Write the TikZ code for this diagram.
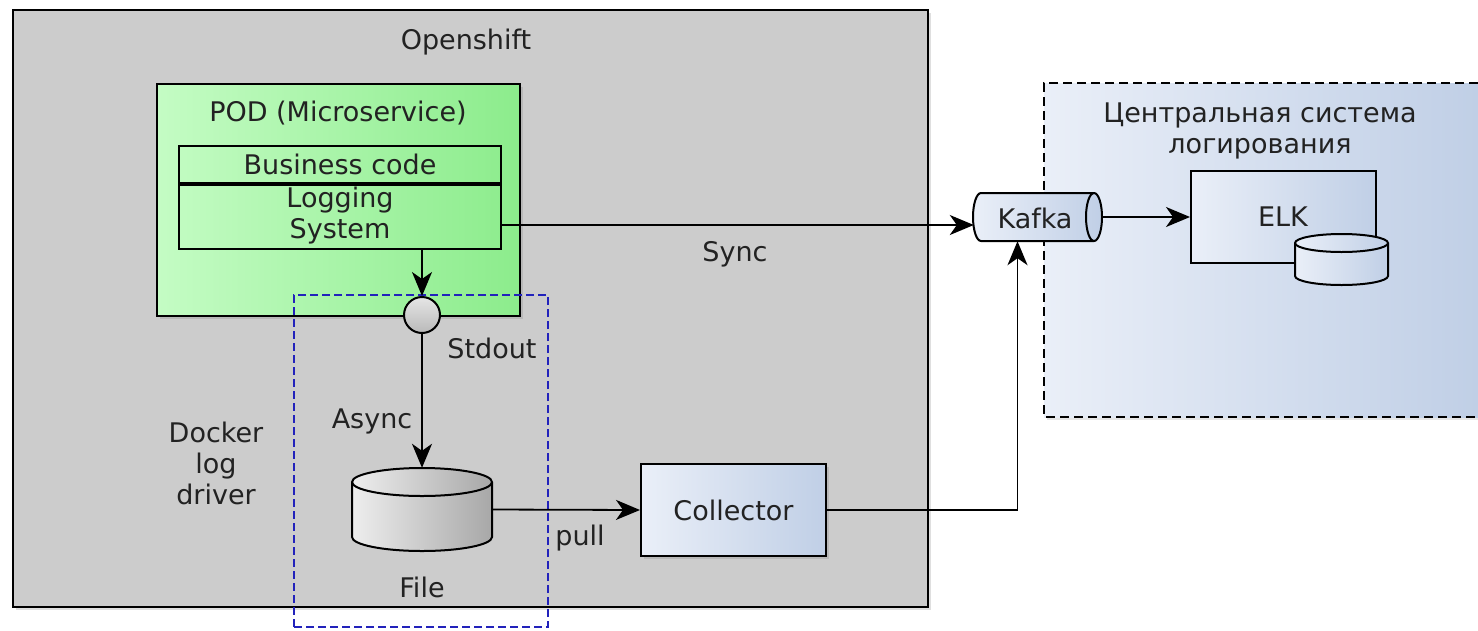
\documentclass[tikz,border=0pt]{standalone}
\usepackage{fontspec}
\setmainfont{DejaVu Sans}
\usetikzlibrary{arrows.meta,shadows}
\definecolor{osgray}{HTML}{CCCCCC}
\definecolor{txt}{HTML}{222222}
\definecolor{greenL}{HTML}{C4FCC4}
\definecolor{greenR}{HTML}{8CEC8C}
\definecolor{blueL}{HTML}{EAEFF8}
\definecolor{blueR}{HTML}{C0CFE6}
\definecolor{dashblue}{HTML}{2222BB}
\definecolor{grayL}{HTML}{EEEEEE}
\definecolor{grayR}{HTML}{A8A8A8}
\tikzset{
  box/.style={draw=black, line width=2pt, inner sep=0pt, text=txt},
  lbl/.style={text=txt, inner sep=0pt, align=center},
  conn/.style={draw=black, line width=1.8pt, -{Stealth[length=24pt,width=20pt,inset=7pt]}},
  shade/.style={drop shadow={opacity=0.25, shadow xshift=3pt, shadow yshift=-3pt}},
  ghost/.style={inner sep=0pt, text=txt}
}
\begin{document}
\begin{tikzpicture}[x=1pt, y=-1pt, font=\fontsize{27}{31}\selectfont]
\useasboundingbox (0,0) rectangle (1478,630);

% Openshift container
\node[box, fill=osgray, shade, minimum width=915pt, minimum height=597pt] (os) at (470.5,308.5) {};
\node[lbl] (oslbl) at (466,42) {Openshift};

% central logging system (right, cut at edge)
\fill[left color=blueL, right color=blueR, drop shadow={opacity=0.2, shadow xshift=3pt, shadow yshift=-3pt}] (1044,83) rectangle (1478,417);
\draw[line width=2pt, dash pattern=on 9pt off 5pt] (1478,83) -- (1044,83) -- (1044,417) -- (1478,417);
\node[lbl] (cslbl) at (1260,131) {Центральная система\\логирования};

% POD
\node[box, left color=greenL, right color=greenR, shade, minimum width=363pt, minimum height=232pt] (pod) at (338.5,200) {};
\node[lbl] (podlbl) at (338,113) {POD (Microservice)};
\node[box, fill=none, minimum width=322pt, minimum height=37pt] (biz) at (340,164.5) {Business code};
\node[box, fill=none, minimum width=322pt, minimum height=66pt, align=center] (log) at (340,216) {Logging\\System};
\draw[line width=3pt] (biz.south west) -- (biz.south east);

% Docker log driver area
\node[draw=dashblue, line width=1.6pt, dash pattern=on 8pt off 4pt, inner sep=0pt, minimum width=254pt, minimum height=332pt] (dld) at (421,461) {};
\node[lbl] (dldlbl) at (216,463) {Docker\\log\\driver};

% Stdout
\node[circle, draw=black, line width=2pt, top color=gray!20, bottom color=gray!55, minimum size=36pt, inner sep=0pt] (stdout) at (422,315) {};
\node[lbl] (stdlbl) at (492,348) {Stdout};

% File cylinder
\node[ghost, minimum width=140pt, minimum height=83pt] (file) at (422,509.5) {};
\path[left color=grayL, right color=grayR, draw=black, line width=2pt]
  (352,482) -- (352,537) arc[start angle=180, end angle=360, x radius=70pt, y radius=14pt]
  -- (492,482) arc[start angle=0, end angle=180, x radius=70pt, y radius=14pt] -- cycle;
\draw[line width=2pt] (352,482) arc[start angle=180, end angle=360, x radius=70pt, y radius=14pt];
\node[lbl] (filelbl) at (422,587) {File};

% Collector
\node[box, left color=blueL, right color=blueR, shade, minimum width=185pt, minimum height=92pt] (coll) at (733.5,510) {Collector};

% Kafka
\node[ghost, minimum width=129pt, minimum height=48pt] (kafka) at (1037.5,217) {};
\path[left color=blueL, right color=blueR, draw=black, line width=2pt]
  (1094,193) -- (981,193) arc[start angle=90, end angle=270, x radius=8pt, y radius=24pt]
  -- (1094,241) arc[start angle=-90, end angle=90, x radius=8pt, y radius=24pt] -- cycle;
\draw[line width=2pt] (1094,193) arc[start angle=90, end angle=270, x radius=8pt, y radius=24pt];
\node[lbl] (kafkalbl) at (1035,218) {Kafka};

% ELK
\node[box, left color=blueL, right color=blueR, minimum width=185pt, minimum height=92pt] (elk) at (1283.5,217) {};
\node[lbl] (elklbl) at (1283,217) {ELK};
\node[ghost, minimum width=93pt, minimum height=52pt] (elkdb) at (1341.5,259) {};
\path[left color=blueL, right color=blueR, draw=black, line width=2pt]
  (1295,243) -- (1295,276) arc[start angle=180, end angle=360, x radius=46.5pt, y radius=9pt]
  -- (1388,243) arc[start angle=0, end angle=180, x radius=46.5pt, y radius=9pt] -- cycle;
\draw[line width=2pt] (1295,243) arc[start angle=180, end angle=360, x radius=46.5pt, y radius=9pt];

% connectors
\draw[conn] (stdout |- log.south) -- (stdout.north);
\draw[conn] (stdout.south) -- (file.north);
\node[lbl] (asynclbl) at (372,421) {Async};
\draw[conn] (file.east) -- (coll.west);
\node[lbl] (pulllbl) at (580,538) {pull};
\draw[conn] ([yshift=-9pt]log.east) -- ([yshift=-8pt, xshift=1pt]kafka.west);
\node[lbl] (synclbl) at (735,254) {Sync};
\draw[conn] (coll.east) -| ([xshift=-20pt]kafka.south);
\draw[conn] (kafka.east) -- (elk.west);
\end{tikzpicture}
\end{document}
